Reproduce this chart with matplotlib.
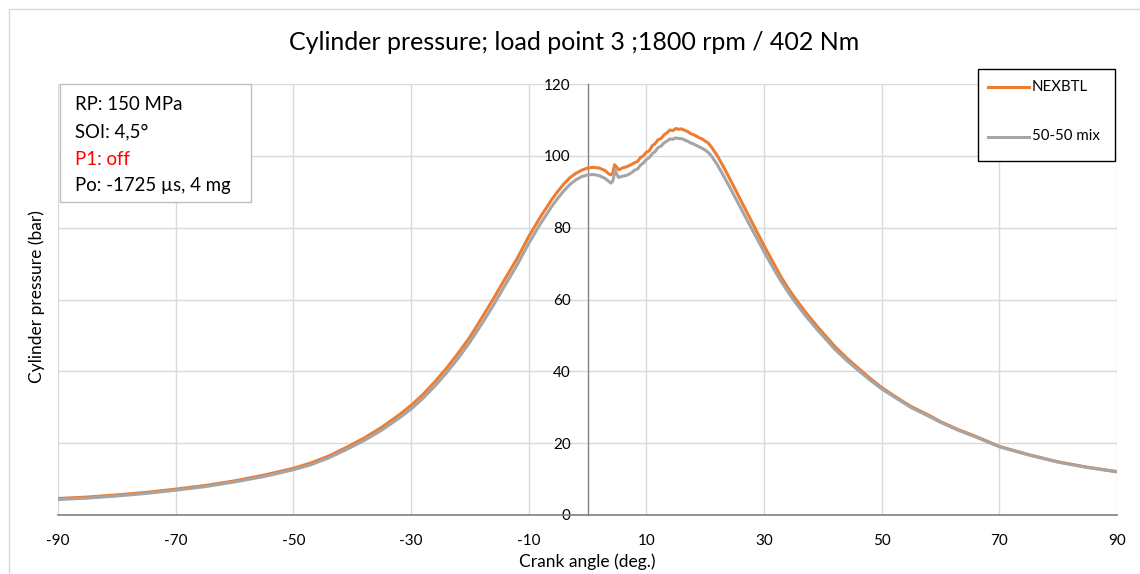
import matplotlib
matplotlib.use("Agg")
import matplotlib.pyplot as plt
from matplotlib.patches import Rectangle
from matplotlib.lines import Line2D

plt.rcParams['font.family'] = ['Lato', 'DejaVu Sans']
plt.rcParams['axes.unicode_minus'] = False

crank_nexbtl = [-90, -85, -80, -75, -70, -65, -60, -55, -50, -47, -44, -41, -38, -35, -32, -30, -28, -26, -24, -22,
                -20, -18, -16, -14, -12, -10, -8, -6, -5, -4, -3, -2, -1,
                0, 1, 2, 3, 3.6, 4, 4.3, 4.6, 5.0, 5.3, 5.9, 6.7, 7.5, 8, 8.5, 9, 9.5, 10, 10.5, 11, 11.5, 12, 12.5,
                13, 13.5, 14, 14.5, 15, 15.5, 16, 16.5, 17, 17.5, 18, 18.5, 19, 19.5, 20, 20.5,
                21, 22, 23, 24, 25, 26, 27, 28, 29, 30, 31, 32, 33, 34, 35, 37, 39, 42, 44, 46, 48, 50, 52, 55,
                58, 60, 63, 66, 70, 75, 80, 85, 90]
p_nexbtl = [4.6, 5.0, 5.6, 6.3, 7.2, 8.2, 9.5, 11.1, 13.0, 14.5, 16.4, 18.8, 21.4, 24.4, 27.9, 30.5, 33.5, 37.0, 40.8, 45.0,
            49.5, 54.8, 60.2, 65.8, 71.3, 77.5, 83.0, 88.0, 90.2, 92.2, 93.9, 95.1, 96.0,
            96.6, 96.8, 96.6, 95.9, 95.0, 94.7, 95.2, 97.5, 96.8, 96.1, 96.6, 97.0, 97.6, 98.1, 98.4, 99.5, 100.0, 101.0, 101.4, 102.8, 103.4, 104.5, 104.8,
            105.8, 106.4, 107.2, 107.0, 107.6, 107.4, 107.5, 107.1, 106.8, 106.2, 105.9, 105.5, 105.0, 104.7, 104.1, 103.6,
            102.6, 100.2, 97.3, 94.2, 91.0, 87.8, 84.6, 81.4, 78.2, 75.0, 72.0, 69.0, 66.0, 63.4, 61.0, 56.6, 52.6, 47.0, 43.8, 40.9, 38.1, 35.5, 33.3, 30.2,
            27.8, 26.0, 23.8, 21.9, 19.1, 16.8, 14.8, 13.3, 12.1]

crank_mix = [-90, -85, -80, -75, -70, -65, -60, -55, -50, -47, -44, -41, -38, -35, -32, -30, -28, -26, -24, -22,
             -20, -18, -16, -14, -12, -10, -8, -6, -5, -4, -3, -2, -1,
             0, 1, 2, 3, 3.6, 4, 4.3, 4.7, 5.0, 5.3, 5.9, 6.7, 7.5, 8, 8.5, 9, 9.5, 10, 10.5, 11, 11.5, 12, 12.5,
             13, 13.5, 14, 14.5, 15, 15.5, 16, 16.5, 17, 17.5, 18, 18.5, 19, 19.5, 20, 20.5,
             21, 22, 23, 24, 25, 26, 27, 28, 29, 30, 31, 32, 33, 34, 35, 37, 39, 42, 44, 46, 48, 50, 52, 55,
             58, 60, 63, 66, 70, 75, 80, 85, 90]
p_mix = [4.3, 4.7, 5.3, 6.0, 6.9, 7.9, 9.2, 10.7, 12.6, 14.0, 15.9, 18.2, 20.7, 23.6, 27.0, 29.5, 32.4, 35.8, 39.5, 43.6,
         48.1, 53.1, 58.4, 64.0, 69.5, 75.6, 81.1, 86.1, 88.3, 90.3, 92.0, 93.3, 94.2,
         94.7, 94.8, 94.5, 93.7, 92.9, 92.4, 93.0, 96.0, 94.8, 94.0, 94.3, 94.6, 95.3, 96.0, 96.3, 97.4, 98.0, 99.0, 99.5, 100.6, 101.2, 102.3, 102.7,
         103.6, 104.1, 104.7, 104.6, 105.0, 104.8, 104.8, 104.4, 104.1, 103.6, 103.3, 102.9, 102.5, 102.1, 101.6, 101.0,
         100.1, 97.7, 94.8, 91.8, 88.7, 85.6, 82.5, 79.4, 76.4, 73.3, 70.4, 67.5, 64.8, 62.3, 59.9, 55.6, 51.7, 46.2, 43.1, 40.3, 37.6, 35.1, 33.0, 29.9,
         27.5, 25.8, 23.6, 21.7, 19.0, 16.7, 14.7, 13.2, 12.0]

x_ticks = [-90, -70, -50, -30, -10, 10, 30, 50, 70, 90]
y_ticks = [0, 20, 40, 60, 80, 100, 120]

title = "Cylinder pressure; load point 3 ;1800 rpm / 402 Nm"
series_names = ["NEXBTL", "50-50 mix"]
colors = ["#ED7D31", "#A5A5A5"]

W, H = 1140, 574
fig = plt.figure(figsize=(W / 100, H / 100), dpi=100)
fig.patch.set_facecolor("white")

# outer chart border
fig.patches.append(Rectangle((9 / W, -0.05), 1.2, 1.05 - 9 / H, transform=fig.transFigure,
                             fill=False, edgecolor="#D9D9D9", linewidth=1, zorder=0))

ax = fig.add_axes([58 / W, 1 - 515 / H, (1117 - 58) / W, (515 - 84) / H])
ax.set_xlim(-90, 90)
ax.set_ylim(0, 120)

ax.plot(crank_nexbtl, p_nexbtl, color=colors[0], linewidth=2.2, zorder=3, solid_joinstyle="round")
ax.plot(crank_mix, p_mix, color=colors[1], linewidth=2.2, zorder=4, solid_joinstyle="round")

ax.set_xticks(x_ticks)
ax.set_yticks(y_ticks)
ax.grid(True, color="#D9D9D9", linewidth=1)
ax.set_axisbelow(True)
ax.tick_params(length=0, labelsize=11, colors="black")
ax.tick_params(axis="x", pad=14)
ax.tick_params(axis="y", pad=12)

for s in ["top", "right"]:
    ax.spines[s].set_visible(False)
ax.spines["left"].set_position(("data", 0))
ax.spines["left"].set_color("#808080")
ax.spines["left"].set_linewidth(1)
ax.spines["bottom"].set_color("#808080")
ax.spines["bottom"].set_linewidth(1.2)
ax.spines["left"].set_zorder(2)

fig.text(587 / W, 1 - 562 / H, "Crank angle (deg.)", fontsize=12.5, ha="center", va="center")
fig.text(37 / W, 1 - 297 / H, "Cylinder pressure (bar)", rotation=90, fontsize=12.5,
         ha="center", va="center")
fig.text(574 / W, 1 - 42 / H, title, fontsize=18, ha="center", va="center")

# info box
fig.patches.append(Rectangle((60 / W, 1 - 202 / H), (251 - 60) / W, (202 - 84) / H,
                             transform=fig.transFigure, fill=True, facecolor="white",
                             edgecolor="#BFBFBF", linewidth=1, zorder=5))
info = [("RP: 150 MPa", "black"), ("SOI: 4,5°", "black"), ("P1: off", "red"), ("Po: -1725 µs, 4 mg", "black")]
for i, (t, c) in enumerate(info):
    fig.text(75 / W, 1 - (105 + 27 * i) / H, t, fontsize=13.4, color=c, ha="left", va="center", zorder=6)

# legend box
fig.patches.append(Rectangle((978 / W, 1 - 161 / H), (1115 - 978) / W, (161 - 69) / H,
                             transform=fig.transFigure, fill=True, facecolor="white",
                             edgecolor="black", linewidth=1, zorder=5))
for i, (name, col) in enumerate(zip(series_names, colors)):
    yy = 1 - (87 + 49.5 * i) / H
    fig.lines.append(Line2D([988 / W, 1029 / W], [yy, yy], transform=fig.transFigure,
                            color=col, linewidth=2.2, zorder=6))
    fig.text(1032 / W, yy, name, fontsize=10.8, ha="left", va="center", zorder=6)

fig.savefig("out.png", dpi=100)
